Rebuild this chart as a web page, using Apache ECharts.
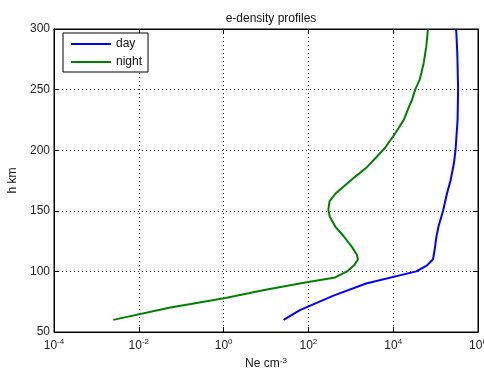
<!DOCTYPE html>
<html><head><meta charset="utf-8">
<script src="https://cdn.jsdelivr.net/npm/echarts@6/dist/echarts.min.js"></script>
<style>html,body{margin:0;padding:0;background:#fff}#c{width:484px;height:373px}</style>
</head><body><div id="c"></div>
<script>
// heights (km) and electron densities (cm^-3)
var dayHeights = [60, 68, 80, 90, 100, 105, 110, 118, 129, 137, 150, 164, 175, 189, 200, 225, 250, 280, 300];
var dayNe = [26, 63, 390, 2300, 3.5e4, 6.3e4, 8.7e4, 9.5e4, 1.05e5, 1.17e5, 1.5e5, 1.85e5, 2.25e5, 2.7e5, 2.95e5, 3.3e5, 3.4e5, 3.25e5, 3.05e5];
var nightHeights = [60, 70, 78, 85, 91, 95, 100, 105, 110, 114, 120, 129, 137, 145, 151, 158, 164, 170, 178, 186, 195, 202, 214, 225, 235, 241, 250, 258, 272, 285, 300];
var nightNe = [2.5e-3, 0.052, 1.1, 10.5, 91, 430, 810, 1200, 1480, 1380, 1070, 680, 430, 320, 295, 316, 430, 680, 1260, 2400, 4200, 6450, 1.12e4, 1.78e4, 2.3e4, 2.75e4, 3.3e4, 4.2e4, 5.25e4, 6.0e4, 6.6e4];
var xTickExponents = [-4, -2, 0, 2, 4, 6];
var yTicks = [50, 100, 150, 200, 250, 300];
var seriesNames = ['day', 'night'];

function toPairs(ne, h) { return ne.map(function (v, i) { return [Math.log10(v), h[i]]; }); }

var FONT = 'Liberation Sans, Arial, sans-serif';
var chart = echarts.init(document.getElementById('c'), null, {renderer: 'canvas'});
var xBase = {
  type: 'value', min: xTickExponents[0], max: xTickExponents[xTickExponents.length - 1], interval: 2
};
var yBase = { type: 'value', min: yTicks[0], max: yTicks[yTicks.length - 1], interval: 50 };
chart.setOption({
  animation: false,
  backgroundColor: '#fff',
  title: {
    text: 'e-density profiles', left: 266, top: 8, textAlign: 'center',
    textStyle: {fontFamily: FONT, fontSize: 12, fontWeight: 'normal', color: '#111'}
  },
  legend: {
    data: seriesNames, orient: 'vertical', left: 63, top: 33,
    backgroundColor: '#fff', borderColor: '#000', borderWidth: 1, borderRadius: 0,
    padding: [4, 6, 3, 8], itemGap: 4, itemWidth: 40, itemHeight: 2, icon: 'rect',
    textStyle: {fontFamily: FONT, fontSize: 12, color: '#111', lineHeight: 14}
  },
  grid: {left: 54, right: 6, top: 29, bottom: 41, show: true, borderColor: '#000', borderWidth: 1,
         backgroundColor: 'transparent', outerBoundsMode: 'none', containLabel: false},
  xAxis: [
    Object.assign({}, xBase, {
      position: 'bottom',
      name: '{a|Ne cm}{s|-3}', nameLocation: 'middle', nameGap: 21,
      nameTextStyle: {rich: {
        a: {fontFamily: FONT, fontSize: 12, color: '#111'},
        s: {fontFamily: FONT, fontSize: 8, color: '#111', padding: [0, 0, 6, 0]}
      }},
      axisLine: {show: true, onZero: false, lineStyle: {color: '#000', width: 1}},
      axisTick: {show: true, inside: true, length: 5, lineStyle: {color: '#000'}},
      axisLabel: {
        margin: 6, hideOverlap: false,
        formatter: function (v) { return '{b|10}{s|' + v + '}'; },
        rich: {
          b: {fontFamily: FONT, fontSize: 12, color: '#222'},
          s: {fontFamily: FONT, fontSize: 8, color: '#222', padding: [0, 0, 7, 0]}
        }
      },
      splitLine: {show: true, lineStyle: {color: '#222', type: [1, 3], width: 1}}
    }),
    Object.assign({}, xBase, {
      position: 'top',
      axisLine: {show: true, onZero: false, lineStyle: {color: '#000'}},
      axisTick: {show: true, inside: true, length: 5, lineStyle: {color: '#000'}},
      axisLabel: {show: false}, splitLine: {show: false}
    })
  ],
  yAxis: [
    Object.assign({}, yBase, {
      position: 'left',
      name: 'h km', nameLocation: 'middle', nameGap: 34, nameRotate: 90,
      nameTextStyle: {fontFamily: FONT, fontSize: 12, color: '#111'},
      axisLine: {show: true, onZero: false, lineStyle: {color: '#000'}},
      axisTick: {show: true, inside: true, length: 5, lineStyle: {color: '#000'}},
      axisLabel: {margin: 4, fontFamily: FONT, fontSize: 12, color: '#222'},
      splitLine: {show: true, lineStyle: {color: '#222', type: [1, 3], width: 1}}
    }),
    Object.assign({}, yBase, {
      position: 'right',
      axisLine: {show: true, onZero: false, lineStyle: {color: '#000'}},
      axisTick: {show: true, inside: true, length: 5, lineStyle: {color: '#000'}},
      axisLabel: {show: false}, splitLine: {show: false}
    })
  ],
  series: [
    {name: seriesNames[0], type: 'line', data: toPairs(dayNe, dayHeights), symbol: 'none',
     lineStyle: {color: '#0000ff', width: 2}, itemStyle: {color: '#0000ff'}, z: 3},
    {name: seriesNames[1], type: 'line', data: toPairs(nightNe, nightHeights), symbol: 'none',
     lineStyle: {color: '#008000', width: 2}, itemStyle: {color: '#008000'}, z: 3}
  ]
});
</script></body></html>
